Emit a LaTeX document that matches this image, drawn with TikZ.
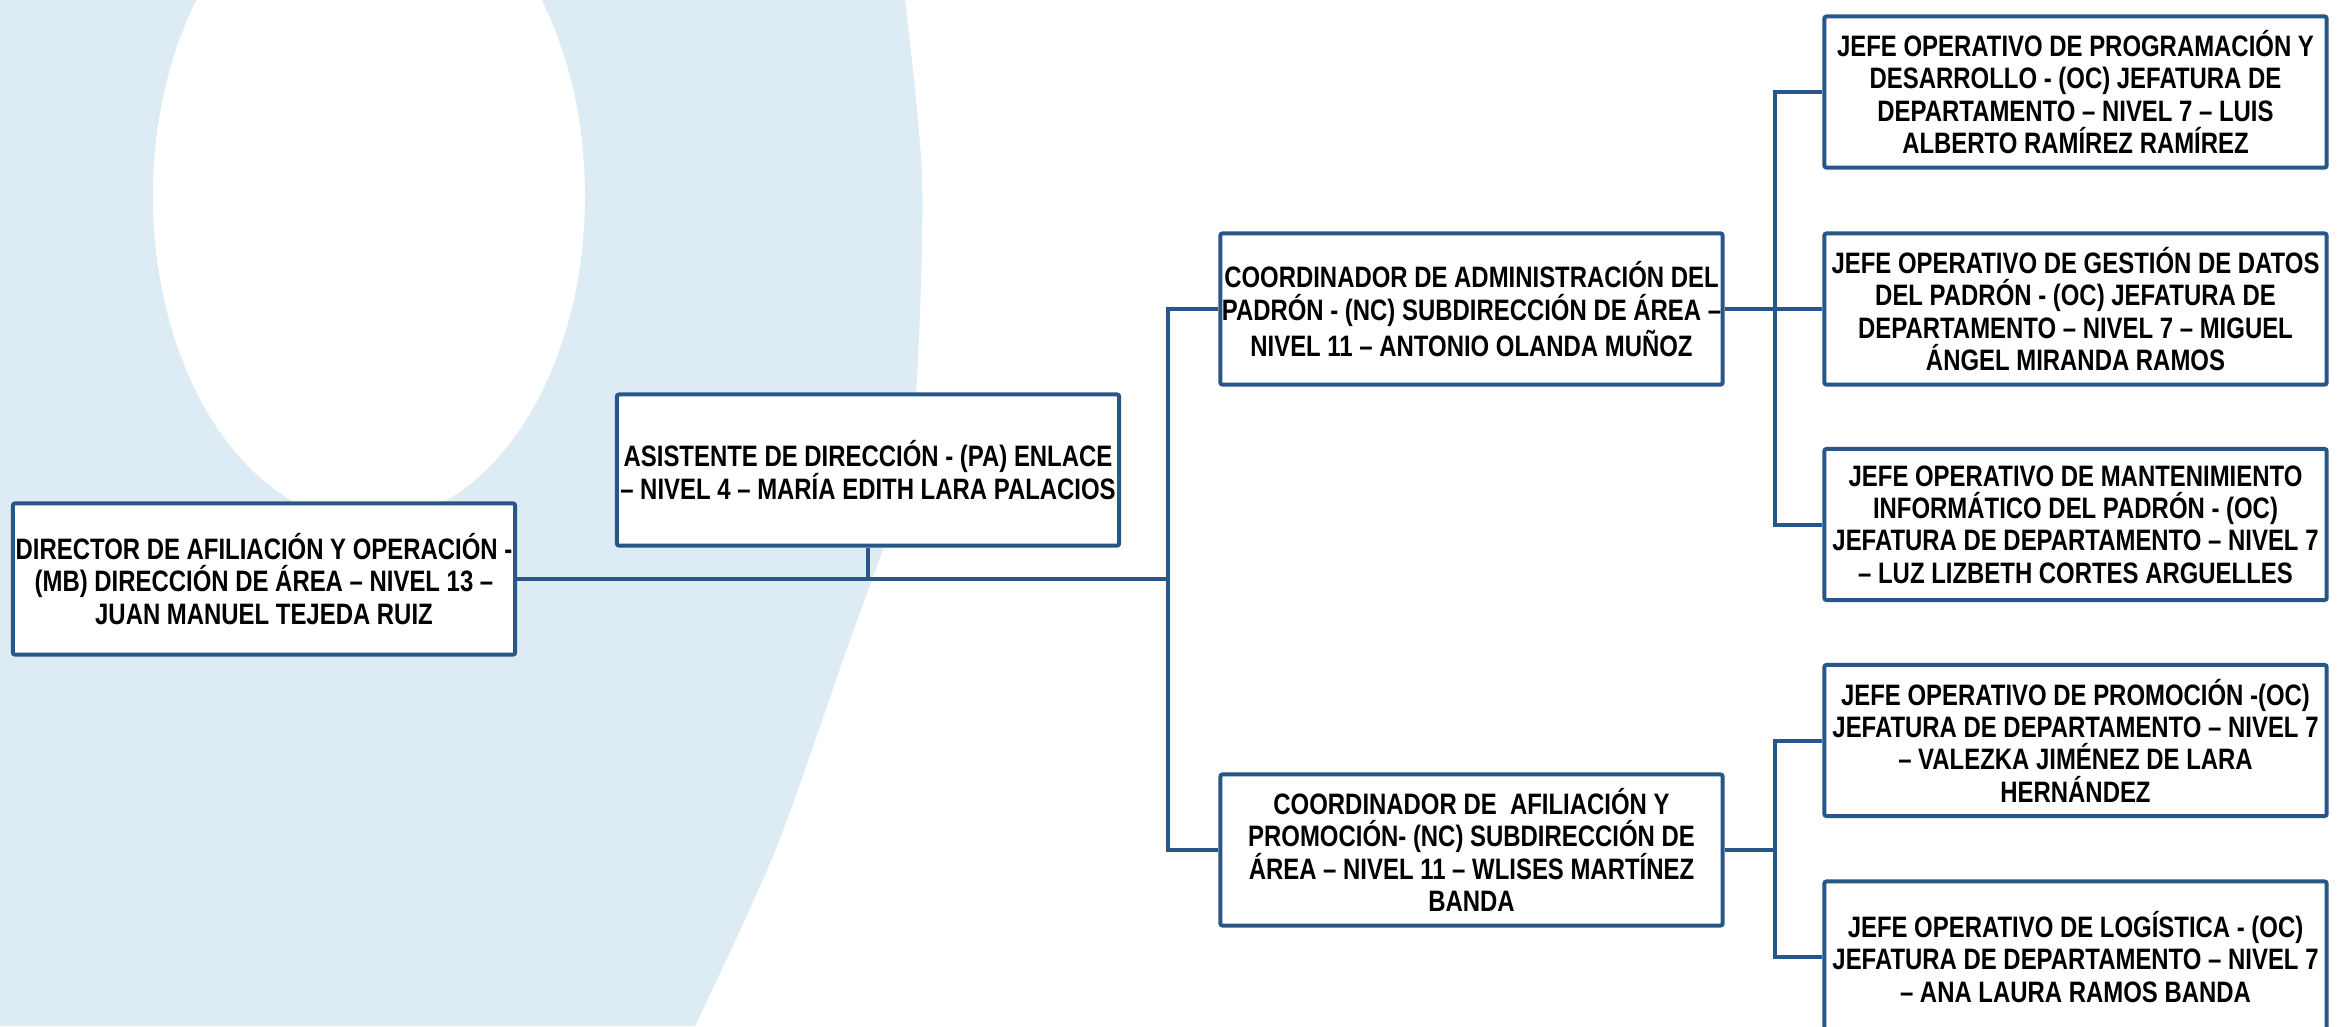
\documentclass[tikz,border=0pt]{standalone}
\usepackage{fontspec}
\newfontfamily\boxfont{Liberation Sans}[FakeStretch=0.81]
\definecolor{boxblue}{RGB}{40,86,136}
\definecolor{bgblue}{RGB}{221,235,244}
\tikzset{
  orgbox/.style={draw=boxblue, line width=0.04cm, fill=white, rounded corners=0.6pt,
    minimum width=5.02cm, minimum height=1.51cm, inner sep=0pt, align=center,
    font=\boxfont\bfseries\fontsize{8.4pt}{9.2pt}\selectfont},
  conn/.style={draw=boxblue, line width=0.04cm}
}
\begin{document}
\begin{tikzpicture}[x=0.01cm, y=-0.01cm]
\useasboundingbox (0,0) rectangle (2351,1026);
\fill[white] (0,0) rectangle (2351,1026);
% background shape
\fill[bgblue] (0,0) -- (905,0) -- plot[smooth] coordinates {(905,0) (922,180) (916,393) (900,497) (845,654) (775,851) (695,1026)} -- (0,1026) -- cycle;
\fill[white] (369,196) ellipse [x radius=216, y radius=326];

% nodes
\node[orgbox] (dir) at (264,579) {DIRECTOR DE AFILIACIÓN Y OPERACIÓN -\\(MB) DIRECCIÓN DE ÁREA – NIVEL 13 –\\JUAN MANUEL TEJEDA RUIZ};
\node[orgbox] (asi) at (868,470) {ASISTENTE DE DIRECCIÓN - (PA) ENLACE\\– NIVEL 4 – MARÍA EDITH LARA PALACIOS};
\node[orgbox] (c1) at (1471.5,309) {COORDINADOR DE ADMINISTRACIÓN DEL\\PADRÓN - (NC) SUBDIRECCIÓN DE ÁREA –\\NIVEL 11 – ANTONIO OLANDA MUÑOZ};
\node[orgbox] (c2) at (1471.5,850) {COORDINADOR DE \ AFILIACIÓN Y\\PROMOCIÓN- (NC) SUBDIRECCIÓN DE\\ÁREA – NIVEL 11 – WLISES MARTÍNEZ\\BANDA};
\node[orgbox] (j1) at (2075.5,92) {JEFE OPERATIVO DE PROGRAMACIÓN Y\\DESARROLLO - (OC) JEFATURA DE\\DEPARTAMENTO – NIVEL 7 – LUIS\\ALBERTO RAMÍREZ RAMÍREZ};
\node[orgbox] (j2) at (2075.5,309) {JEFE OPERATIVO DE GESTIÓN DE DATOS\\DEL PADRÓN - (OC) JEFATURA DE\\DEPARTAMENTO – NIVEL 7 – MIGUEL\\ÁNGEL MIRANDA RAMOS};
\node[orgbox] (j3) at (2075.5,524.5) {JEFE OPERATIVO DE MANTENIMIENTO\\INFORMÁTICO DEL PADRÓN - (OC)\\JEFATURA DE DEPARTAMENTO – NIVEL 7\\– LUZ LIZBETH CORTES ARGUELLES};
\node[orgbox] (j4) at (2075.5,740.5) {JEFE OPERATIVO DE PROMOCIÓN -(OC)\\JEFATURA DE DEPARTAMENTO – NIVEL 7\\– VALEZKA JIMÉNEZ DE LARA\\HERNÁNDEZ};
\node[orgbox] (j5) at (2075.5,957) {JEFE OPERATIVO DE LOGÍSTICA - (OC)\\JEFATURA DE DEPARTAMENTO – NIVEL 7\\– ANA LAURA RAMOS BANDA};

% trunks
\coordinate (tr) at (1168,0);
\coordinate (tr2) at (1775,0);

% connectors
\draw[conn] (dir.east) -- (dir.east -| tr);
\draw[conn] (asi.south) -- (asi.south |- dir.east);
\draw[conn] (c1.west) -- (c1.west -| tr) -- (c2.west -| tr) -- (c2.west);
\draw[conn] (c1.east) -- (c1.east -| tr2);
\draw[conn] (j1.west) -- (j1.west -| tr2) -- (j3.west -| tr2) -- (j3.west);
\draw[conn] (j2.west) -- (j2.west -| tr2);
\draw[conn] (c2.east) -- (c2.east -| tr2);
\draw[conn] (j4.west) -- (j4.west -| tr2) -- (j5.west -| tr2) -- (j5.west);
\end{tikzpicture}
\end{document}
